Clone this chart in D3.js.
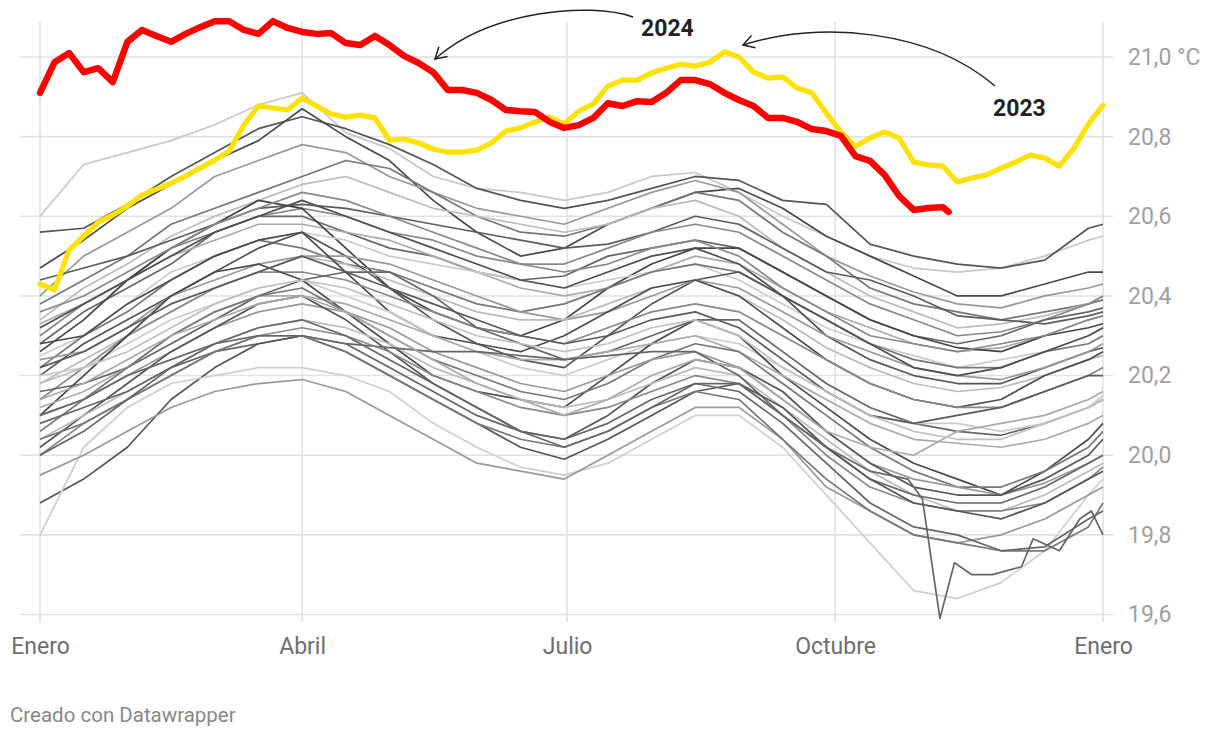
<!DOCTYPE html>
<html><head><meta charset="utf-8">
<script src="https://cdn.jsdelivr.net/npm/d3@7"></script>
<style>body{margin:0;background:#fff;} svg{display:block;font-family:Roboto, "DejaVu Sans", sans-serif;}</style>
</head><body><svg id="c" width="1220" height="738"></svg>
<script>
// ---------- DATA ----------
const monthTicks = [0, 90, 181, 273, 365];
const monthLabels = ["Enero", "Abril", "Julio", "Octubre", "Enero"];
const yTicks = [19.6, 19.8, 20.0, 20.2, 20.4, 20.6, 20.8, 21.0];

// day of year for the 2024 / 2023 series (5-day steps)
const redDays = d3.range(0, 311, 5).concat([312]);
const redValues = [20.910,20.987,21.010,20.962,20.972,20.937,21.038,21.068,21.053,21.038,
  21.058,21.075,21.090,21.090,21.068,21.058,21.090,21.073,21.063,21.058,
  21.060,21.035,21.030,21.053,21.030,21.003,20.985,20.962,20.917,20.917,
  20.910,20.892,20.867,20.864,20.862,20.837,20.822,20.829,20.847,20.884,
  20.877,20.889,20.887,20.910,20.942,20.942,20.932,20.910,20.892,20.877,
  20.847,20.847,20.837,20.819,20.814,20.802,20.751,20.739,20.704,20.651,
  20.616,20.621,20.623,20.611];

const yellowDays = d3.range(0, 366, 5);
const yellowValues = [20.430,20.415,20.515,20.550,20.585,20.603,20.626,20.653,20.668,20.683,
  20.701,20.721,20.741,20.764,20.829,20.877,20.872,20.867,20.897,20.877,
  20.857,20.849,20.854,20.847,20.791,20.794,20.784,20.769,20.761,20.761,
  20.766,20.784,20.814,20.822,20.837,20.849,20.832,20.864,20.882,20.927,
  20.942,20.942,20.960,20.972,20.982,20.977,20.987,21.013,21.000,20.962,
  20.947,20.950,20.922,20.910,20.859,20.812,20.776,20.796,20.812,20.796,
  20.736,20.729,20.726,20.686,20.696,20.704,20.721,20.736,20.754,20.746,
  20.726,20.771,20.832,20.879];

// earlier years (grey), sampled every 15 days
const grayDays = [0,15,30,45,60,75,90,105,120,135,150,165,180,195,210,225,240,255,270,285,300,315,330,345,360,365];
const grayValues = [
 [20.60,20.73,20.76,20.79,20.83,20.88,20.91,20.81,20.77,20.70,20.67,20.66,20.64,20.66,20.70,20.71,20.66,20.60,20.55,20.50,20.47,20.46,20.47,20.50,20.54,20.55],
 [20.56,20.57,20.63,20.70,20.76,20.82,20.85,20.82,20.78,20.73,20.67,20.64,20.62,20.64,20.67,20.70,20.69,20.64,20.63,20.53,20.50,20.48,20.47,20.49,20.57,20.58],
 [20.47,20.54,20.62,20.68,20.74,20.79,20.87,20.80,20.74,20.64,20.56,20.50,20.52,20.58,20.62,20.66,20.67,20.62,20.55,20.50,20.45,20.40,20.40,20.43,20.46,20.46],
 [20.40,20.50,20.56,20.62,20.70,20.74,20.78,20.76,20.70,20.66,20.62,20.60,20.58,20.62,20.66,20.69,20.66,20.58,20.50,20.45,20.41,20.38,20.37,20.40,20.42,20.43],
 [20.38,20.44,20.50,20.58,20.62,20.66,20.70,20.74,20.72,20.66,20.60,20.56,20.55,20.58,20.62,20.66,20.64,20.56,20.50,20.42,20.38,20.36,20.34,20.36,20.38,20.39],
 [20.34,20.42,20.48,20.55,20.60,20.64,20.68,20.70,20.66,20.62,20.60,20.58,20.56,20.58,20.62,20.64,20.60,20.52,20.46,20.40,20.36,20.32,20.33,20.35,20.38,20.40],
 [20.44,20.47,20.50,20.54,20.58,20.62,20.63,20.62,20.60,20.58,20.56,20.54,20.52,20.53,20.56,20.60,20.58,20.52,20.46,20.44,20.40,20.35,20.34,20.33,20.35,20.36],
 [20.30,20.38,20.44,20.52,20.56,20.60,20.62,20.60,20.56,20.54,20.50,20.48,20.48,20.52,20.56,20.58,20.56,20.50,20.44,20.38,20.34,20.30,20.31,20.34,20.38,20.40],
 [20.28,20.36,20.42,20.48,20.56,20.60,20.60,20.56,20.52,20.50,20.46,20.44,20.45,20.50,20.52,20.54,20.52,20.46,20.40,20.34,20.30,20.28,20.30,20.34,20.36,20.37],
 [20.33,20.38,20.44,20.50,20.54,20.58,20.58,20.56,20.54,20.50,20.46,20.42,20.40,20.42,20.46,20.50,20.48,20.42,20.36,20.32,20.28,20.26,20.27,20.30,20.34,20.35],
 [20.26,20.34,20.44,20.52,20.58,20.64,20.62,20.52,20.42,20.36,20.32,20.30,20.34,20.42,20.48,20.52,20.52,20.46,20.40,20.34,20.30,20.27,20.26,20.30,20.32,20.33],
 [20.25,20.30,20.38,20.46,20.50,20.54,20.56,20.54,20.50,20.48,20.46,20.44,20.42,20.44,20.46,20.48,20.44,20.38,20.32,20.28,20.25,20.22,20.24,20.26,20.30,20.32],
 [20.22,20.30,20.36,20.44,20.50,20.54,20.52,20.48,20.46,20.42,20.38,20.36,20.38,20.42,20.46,20.48,20.46,20.40,20.34,20.28,20.24,20.22,20.22,20.26,20.28,20.30],
 [20.20,20.28,20.34,20.40,20.46,20.52,20.56,20.50,20.42,20.34,20.28,20.24,20.22,20.30,20.38,20.44,20.46,20.40,20.30,20.24,20.20,20.18,20.18,20.22,20.26,20.27],
 [20.24,20.26,20.32,20.40,20.44,20.48,20.50,20.50,20.48,20.44,20.40,20.36,20.34,20.36,20.40,20.44,20.42,20.36,20.30,20.26,20.22,20.20,20.19,20.22,20.26,20.28],
 [20.18,20.24,20.30,20.36,20.42,20.46,20.50,20.48,20.44,20.40,20.36,20.34,20.34,20.38,20.42,20.44,20.40,20.34,20.27,20.22,20.18,20.16,20.17,20.20,20.24,20.25],
 [20.28,20.30,20.38,20.44,20.50,20.54,20.56,20.46,20.36,20.30,20.28,20.26,20.30,20.36,20.42,20.44,20.40,20.32,20.24,20.18,20.14,20.12,20.14,20.20,20.24,20.26],
 [20.14,20.22,20.30,20.36,20.42,20.46,20.46,20.44,20.40,20.36,20.32,20.30,20.28,20.32,20.36,20.38,20.36,20.30,20.24,20.18,20.14,20.12,20.12,20.16,20.20,20.22],
 [20.16,20.18,20.22,20.28,20.34,20.40,20.44,20.46,20.46,20.40,20.32,20.28,20.24,20.26,20.30,20.34,20.34,20.26,20.18,20.12,20.08,20.06,20.05,20.08,20.12,20.14],
 [20.20,20.22,20.28,20.34,20.38,20.42,20.44,20.40,20.36,20.30,20.26,20.22,20.20,20.24,20.28,20.30,20.28,20.22,20.16,20.10,20.08,20.08,20.06,20.08,20.12,20.15],
 [20.10,20.20,20.30,20.40,20.46,20.48,20.44,20.36,20.28,20.20,20.16,20.14,20.12,20.20,20.28,20.34,20.30,20.20,20.12,20.04,19.98,19.94,19.90,19.96,20.04,20.08],
 [20.12,20.16,20.22,20.30,20.36,20.40,20.40,20.38,20.34,20.30,20.26,20.24,20.24,20.26,20.28,20.30,20.26,20.20,20.14,20.08,20.04,20.03,20.02,20.04,20.08,20.10],
 [20.06,20.14,20.22,20.30,20.36,20.40,20.42,20.36,20.30,20.24,20.20,20.16,20.14,20.18,20.24,20.28,20.26,20.18,20.10,20.02,19.96,19.92,19.92,19.96,20.02,20.06],
 [20.10,20.14,20.20,20.26,20.32,20.36,20.38,20.36,20.32,20.26,20.22,20.18,20.16,20.20,20.24,20.26,20.22,20.14,20.06,19.98,19.94,19.92,19.90,19.93,19.98,20.00],
 [20.02,20.10,20.18,20.26,20.32,20.38,20.40,20.34,20.26,20.18,20.12,20.06,20.04,20.10,20.18,20.24,20.22,20.16,20.06,19.98,19.92,19.90,19.90,19.94,20.00,20.04],
 [20.04,20.10,20.16,20.22,20.28,20.32,20.34,20.32,20.28,20.22,20.18,20.14,20.12,20.14,20.18,20.22,20.20,20.12,20.04,19.96,19.90,19.86,19.86,19.90,19.96,19.98],
 [20.08,20.12,20.16,20.22,20.26,20.28,20.30,20.28,20.27,20.26,20.26,20.25,20.24,20.25,20.26,20.26,20.20,20.10,20.02,19.94,19.90,19.88,19.88,19.92,19.98,20.00],
 [20.00,20.08,20.14,20.20,20.26,20.30,20.32,20.30,20.26,20.20,20.16,20.12,20.10,20.12,20.16,20.20,20.18,20.10,20.00,19.92,19.88,19.86,19.86,19.88,19.94,19.97],
 [19.88,19.94,20.02,20.14,20.22,20.28,20.30,20.26,20.20,20.14,20.08,20.02,19.99,20.04,20.10,20.16,20.18,20.12,20.02,19.94,19.88,19.86,19.84,19.88,19.94,19.96],
 [19.80,20.02,20.12,20.18,20.20,20.22,20.22,20.20,20.16,20.08,20.02,19.97,19.95,19.98,20.04,20.10,20.10,20.02,19.90,19.78,19.66,19.64,19.68,19.76,19.90,19.94],
 [19.95,20.00,20.06,20.12,20.16,20.18,20.19,20.16,20.10,20.04,19.98,19.96,19.94,20.00,20.06,20.12,20.12,20.04,19.92,19.86,19.80,19.78,19.80,19.84,19.90,19.92],
 [20.04,20.08,20.14,20.20,20.26,20.30,20.30,20.26,20.20,20.14,20.08,20.04,20.02,20.06,20.12,20.16,20.14,20.04,19.94,19.86,19.80,19.78,19.76,19.76,19.82,19.88],
 [20.10,20.14,20.20,20.24,20.28,20.30,20.30,20.28,20.22,20.16,20.10,20.06,20.04,20.08,20.14,20.18,20.16,20.08,19.98,19.88,19.82,19.80,19.76,19.77,19.84,19.86],
 [20.14,20.18,20.24,20.30,20.34,20.38,20.40,20.36,20.30,20.24,20.18,20.14,20.10,20.14,20.20,20.24,20.22,20.14,20.06,20.02,20.00,20.06,20.08,20.10,20.14,20.16],
 [20.22,20.26,20.32,20.38,20.42,20.46,20.50,20.46,20.42,20.38,20.34,20.30,20.28,20.30,20.34,20.36,20.32,20.24,20.16,20.10,20.08,20.10,20.12,20.16,20.20,20.20],
 [20.18,20.22,20.26,20.32,20.38,20.42,20.44,20.42,20.38,20.34,20.30,20.28,20.26,20.28,20.32,20.34,20.30,20.22,20.16,20.10,20.06,20.04,20.04,20.08,20.12,20.14],
 [20.36,20.40,20.46,20.52,20.58,20.62,20.66,20.64,20.60,20.56,20.52,20.48,20.46,20.48,20.52,20.54,20.50,20.42,20.36,20.30,20.28,20.26,20.28,20.30,20.34,20.35],
 [20.32,20.38,20.44,20.50,20.56,20.60,20.64,20.60,20.56,20.52,20.48,20.44,20.42,20.46,20.50,20.52,20.48,20.40,20.34,20.28,20.22,20.20,20.22,20.26,20.30,20.32]
];
// one grey year with a sharp dip in November
const dipDays = [0,15,30,45,60,75,90,105,120,135,150,165,180,195,210,225,240,255,270,285,298,303,309,314,320,327,337,341,350,357,361,365];
const dipValues = [20.00,20.06,20.14,20.22,20.28,20.32,20.34,20.30,20.24,20.18,20.12,20.06,20.02,20.06,20.12,20.18,20.18,20.10,20.02,19.96,19.94,19.89,19.59,19.73,19.70,19.70,19.72,19.79,19.76,19.84,19.86,19.80];

// ---------- STYLE ----------
const grayColors = ["#c8c8c8","#555555","#4a4a4a","#999999","#777777","#bbbbbb","#5c5c5c","#888888",
  "#666666","#aaaaaa","#444444","#cccccc","#777777","#555555","#999999","#bbbbbb","#4d4d4d","#888888",
  "#666666","#cccccc","#4a4a4a","#aaaaaa","#777777","#999999","#555555","#bbbbbb","#666666","#888888",
  "#555555","#cfcfcf","#999999","#777777","#666666","#aaaaaa","#5a5a5a","#c0c0c0","#8a8a8a","#4f4f4f"];

const svg = d3.select("#c");
const x = d3.scaleLinear().domain([0, 365]).range([40, 1103]);
const y = d3.scaleLinear().domain([19.6, 21.0]).range([614.5, 57]);

// grid
svg.append("g").selectAll("line").data(yTicks).join("line")
  .attr("x1", 20).attr("x2", 1113)
  .attr("y1", d => y(d)).attr("y2", d => y(d))
  .attr("stroke", "#e2e2e2").attr("stroke-width", 1.6);
svg.append("g").selectAll("line").data(monthTicks).join("line")
  .attr("x1", d => x(d)).attr("x2", d => x(d))
  .attr("y1", 22).attr("y2", 622)
  .attr("stroke", "#e2e2e2").attr("stroke-width", 1.6);

// axes labels
const fmt = d => d3.format(".1f")(d).replace(".", ",") + (d === 21 ? " °C" : "");
svg.append("g").attr("transform", "translate(1113,0)")
  .call(d3.axisRight(y).tickValues(yTicks).tickSize(0).tickPadding(15).tickFormat(fmt))
  .call(g => g.select(".domain").remove())
  .selectAll("text").attr("fill", "#a0a0a0").style("font-size", "23px").style("font-family", "Roboto");
svg.append("g").attr("transform", "translate(0,614.5)")
  .call(d3.axisBottom(x).tickValues(monthTicks).tickSize(0).tickPadding(23).tickFormat((d, i) => monthLabels[i]))
  .call(g => g.select(".domain").remove())
  .selectAll("text").attr("fill", "#6e6e6e").style("font-size", "23px").style("font-family", "Roboto");

// lines
const line = d3.line().x(d => x(d[0])).y(d => y(d[1])).curve(d3.curveLinear);
const gGray = svg.append("g").attr("fill", "none").attr("stroke-width", 1.7).attr("stroke-linejoin", "round");
grayValues.forEach((vals, i) => {
  gGray.append("path").attr("d", line(grayDays.map((d, j) => [d, vals[j]]))).attr("stroke", grayColors[i]);
});
gGray.append("path").attr("d", line(dipDays.map((d, j) => [d, dipValues[j]]))).attr("stroke", "#666666");

svg.append("path").attr("d", line(yellowDays.map((d, j) => [d, yellowValues[j]])))
  .attr("fill", "none").attr("stroke", "#ffe200").attr("stroke-width", 5.2)
  .attr("stroke-linejoin", "round").attr("stroke-linecap", "round");
svg.append("path").attr("d", line(redDays.map((d, j) => [d, redValues[j]])))
  .attr("fill", "none").attr("stroke", "#ff0000").attr("stroke-width", 6.5)
  .attr("stroke-linejoin", "round").attr("stroke-linecap", "round");

// annotations
const defs = svg.append("defs");
defs.append("marker").attr("id", "ah").attr("markerUnits", "userSpaceOnUse")
  .attr("viewBox", "-12 -8 14 16").attr("refX", 0).attr("refY", 0)
  .attr("markerWidth", 14).attr("markerHeight", 16).attr("orient", "auto")
  .append("path").attr("d", "M-11,-6.5 L0,0 L-11,6.5").attr("fill", "none").attr("stroke", "#222").attr("stroke-width", 1.5);
svg.append("path").attr("d", "M633,17 C590,2 490,10 435,59")
  .attr("fill", "none").attr("stroke", "#222").attr("stroke-width", 1.5).attr("marker-end", "url(#ah)");
svg.append("path").attr("d", "M995,86 C930,30 820,20 743,45")
  .attr("fill", "none").attr("stroke", "#222").attr("stroke-width", 1.5).attr("marker-end", "url(#ah)");
svg.append("text").attr("x", 641).attr("y", 36).text("2024")
  .attr("fill", "#222").style("font-size", "23px").style("font-weight", "700").style("font-family", "Roboto");
svg.append("text").attr("x", 993).attr("y", 116).text("2023")
  .attr("fill", "#222").style("font-size", "23px").style("font-weight", "700").style("font-family", "Roboto");

svg.append("text").attr("x", 10).attr("y", 722).text("Creado con Datawrapper")
  .attr("fill", "#888").style("font-size", "20.5px").style("font-family", "Roboto");
</script>
</body></html>
